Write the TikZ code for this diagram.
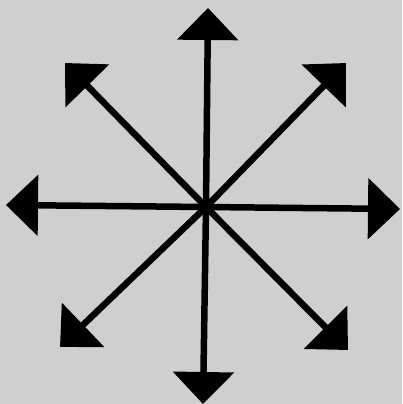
\documentclass[tikz,border=0pt]{standalone}
\usetikzlibrary{arrows.meta}
\definecolor{bggray}{HTML}{CFCFCF}
\begin{document}
\begin{tikzpicture}[x=1pt,y=-1pt,
  arr/.style={line width=6.5pt,-{Triangle[length=32pt,width=60pt]}}]
\fill[bggray] (0,0) rectangle (402,404);
\useasboundingbox (0,0) rectangle (402,404);
\coordinate (c) at (206,207);
\coordinate (tu) at (208,8);
\coordinate (td) at (203,404);
\coordinate (tl) at (6,205);
\coordinate (tr) at (400,209);
\coordinate (tur) at (346,63);
\coordinate (tul) at (65,63);
\coordinate (tll) at (60,347);
\coordinate (tlr) at (348,350);
\foreach \t in {tu,td,tl,tr,tur,tul,tll,tlr}
  \draw[arr] (c) -- (\t);
\end{tikzpicture}
\end{document}
